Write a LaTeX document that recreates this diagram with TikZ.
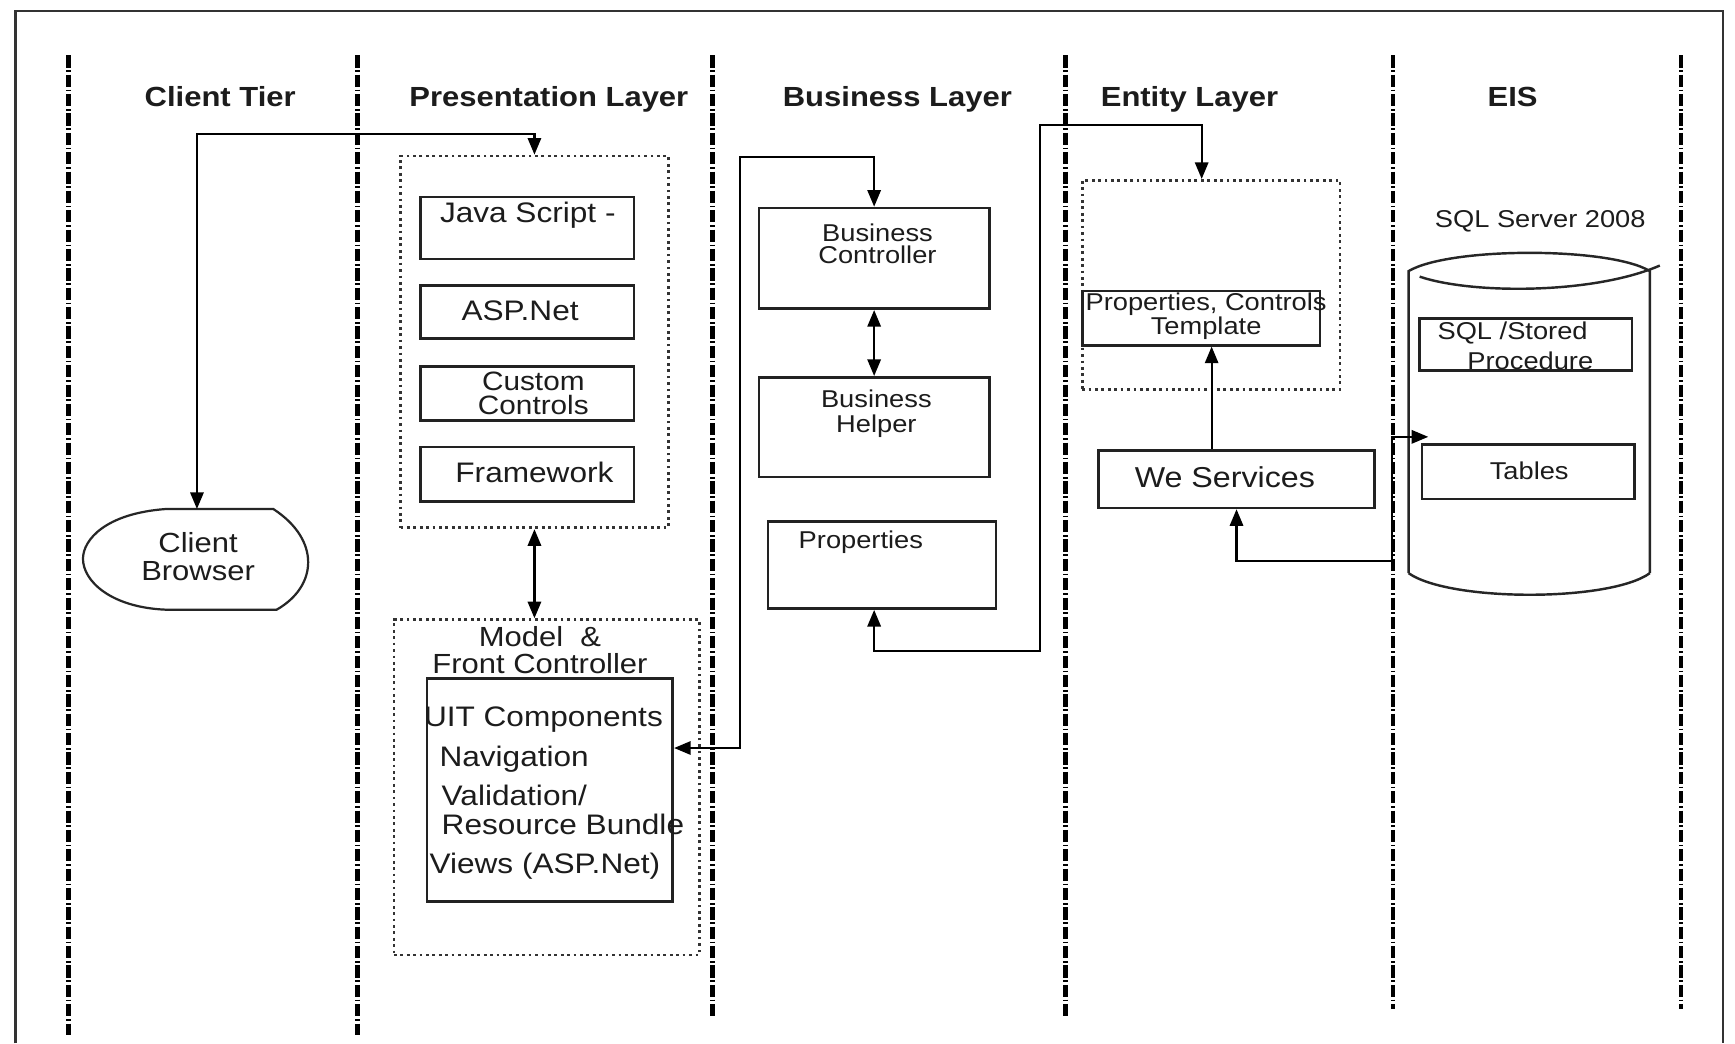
\documentclass[tikz,border=0pt]{standalone}
\usepackage{fontspec}
\setmainfont{Liberation Sans}[FakeStretch=1.12]
\usetikzlibrary{arrows.meta}
\definecolor{ink}{HTML}{1C1C1C}
\definecolor{edge}{HTML}{222222}
\begin{document}
\begin{tikzpicture}[x=1pt,y=-1pt,
  >={Triangle[length=15pt,width=12pt]},
  box/.style={draw=edge, line width=2.4pt, inner sep=0pt},
  dotbox/.style={draw=black!80, line width=2.5pt, dash pattern=on 2.5pt off 3.3pt, inner sep=0pt},
  lane/.style={draw=black, line width=4pt, dash pattern=on 11pt off 2.5pt on 1.5pt off 2.5pt},
  conn/.style={draw=black, line width=2pt},
  cyl/.style={draw=black!85, line width=2.2pt},
  tx/.style={inner sep=0pt, text=ink},
  hdr/.style={tx, font=\fontsize{25}{30}\selectfont\bfseries},
  big/.style={tx, font=\fontsize{25.5}{26}\selectfont, align=center},
  sml/.style={tx, font=\fontsize{22}{20}\selectfont, align=center},
]
\useasboundingbox (0,0) rectangle (1568,943);
\fill[white] (0,0) rectangle (1568,943);

% outer frame
\draw[black!80, line width=2pt] (14,943) -- (14,10) -- (1557,10) -- (1557,943);

% swimlane separators
\foreach \x/\b in {62/935,323/935,644/918,963/918,1259/912,1519/912}
  \draw[lane] (\x,50) -- (\x,\b);

% headers
\node[hdr, anchor=base] (h1) at (199,96) {Client Tier};
\node[hdr, anchor=base] (h2) at (496,96) {Presentation Layer};
\node[hdr, anchor=base] (h3) at (811,96) {Business Layer};
\node[hdr, anchor=base] (h4) at (1075,96) {Entity Layer};
\node[hdr, anchor=base] (h5) at (1367,96) {EIS};

% client browser (display shape)
\draw[black!85, line width=2pt] (150,460) -- (247,460)
  .. controls (290,488) and (287,530) .. (250,551) -- (150,551)
  .. controls (100,549) and (75,525) .. (75,505)
  .. controls (75,488) and (95,464) .. (150,460) -- cycle;
\coordinate (cbtop) at (178,460);
\node[big, font=\fontsize{25}{26}\selectfont] (cbt) at (179,503) {Client\\Browser};

% presentation layer
\node[dotbox, minimum width=242pt, minimum height=336pt] (pres) at (483,309) {};
\node[box, minimum width=193pt, minimum height=56pt] (js) at (476.5,206) {};
\node[box, minimum width=193pt, minimum height=48pt] (asp) at (476.5,282) {};
\node[box, minimum width=193pt, minimum height=49pt] (cust) at (476.5,355.5) {};
\node[box, minimum width=193pt, minimum height=49pt] (fw) at (476.5,428.5) {};
\node[big, anchor=base] (jst) at (477,201) {Java Script -};
\node[big, anchor=base] (aspt) at (470,290) {ASP.Net};
\node[big, font=\fontsize{24}{22.5}\selectfont] (custt) at (482,355.5) {Custom\\Controls};
\node[big, anchor=base] (fwt) at (483,436) {Framework};

\node[dotbox, minimum width=276pt, minimum height=303pt] (model) at (494,711.5) {};
\node[big, font=\fontsize{25}{25}\selectfont] (modt) at (488,587.5) {Model\ \ \&\\Front Controller};
\node[box, minimum width=222pt, minimum height=202pt] (mi) at (497,714) {};
\node[big, anchor=base west] (t1) at (383,657) {UIT Components};
\node[big, anchor=base west] (t2) at (397,693) {Navigation};
\node[big, anchor=base west] (t3) at (399,728) {Validation/};
\node[big, anchor=base west] (t4) at (399,754) {Resource Bundle};
\node[big, anchor=base west] (t5) at (388,789) {Views (ASP.Net)};

% business layer
\node[box, minimum width=208pt, minimum height=91pt] (bc) at (790,233.5) {};
\node[box, minimum width=208pt, minimum height=90pt] (bh) at (790,386) {};
\node[box, minimum width=206pt, minimum height=79pt] (prop) at (797,510.5) {};
\node[sml] (bct) at (793,220) {Business\\Controller};
\node[sml, font=\fontsize{22}{22}\selectfont] (bht) at (792,374) {Business\\Helper};
\node[sml, anchor=base] (propt) at (778,496) {Properties};

% entity layer
\node[dotbox, minimum width=233pt, minimum height=189pt] (ent) at (1094.5,257.5) {};
\node[box, minimum width=215pt, minimum height=49pt] (pct) at (1085.5,287.5) {};
\node[sml] (pctt) at (1090,286) {Properties, Controls\\Template};
\node[box, minimum width=249pt, minimum height=52pt] (ws) at (1117.5,433) {};
\node[big, font=\fontsize{26}{26}\selectfont, anchor=base] (wst) at (1107,441) {We Services};

% EIS
\node[sml, anchor=base] (sqs) at (1392,205.5) {SQL Server 2008};
\draw[cyl] (1273,518) -- (1273,245) .. controls (1310,223) and (1455,223) .. (1491,245) -- (1491,518);
\draw[cyl] (1283,250) .. controls (1330,266) and (1440,266) .. (1500,240);
\draw[cyl] (1273,518) .. controls (1310,544) and (1455,544) .. (1491,518);
\node[box, minimum width=192pt, minimum height=47pt] (sq) at (1379,311.5) {};
\node[box, minimum width=192pt, minimum height=49pt] (tab) at (1381,426.5) {};
\node[sml, font=\fontsize{22}{27}\selectfont, align=left, anchor=west] (sqt) at (1299,312.5) {SQL /Stored\\\hspace*{27pt}Procedure};
\node[sml, anchor=base] (tabt) at (1382,433) {Tables};

% connectors
\draw[conn,<->] (pres.north) -- ++(0,-19) -| (cbtop);
\draw[conn,<->] (pres.south) -- (pres.south |- model.north);
\draw[conn,<->] (bc.north) -- ++(0,-45) -- ++(-121,0) |- ([yshift=38pt]mi.east);
\draw[conn,<->] (bc.south) -- (bh.north);
\draw[conn,<->] ([xshift=-7pt]prop.south) -- ++(0,37) -| (940,113) -| ([xshift=-8.5pt]ent.north);
\draw[conn,line width=1.8pt,->] ([xshift=-22.5pt]ws.north) -- ([xshift=-22.5pt]ws.north |- pct.south);
\draw[conn,<->] (ws.south) -- ++(0,47) -| ([xshift=-26pt,yshift=6pt]tab.north west) -- ([xshift=7pt,yshift=6pt]tab.north west);
\end{tikzpicture}
\end{document}
